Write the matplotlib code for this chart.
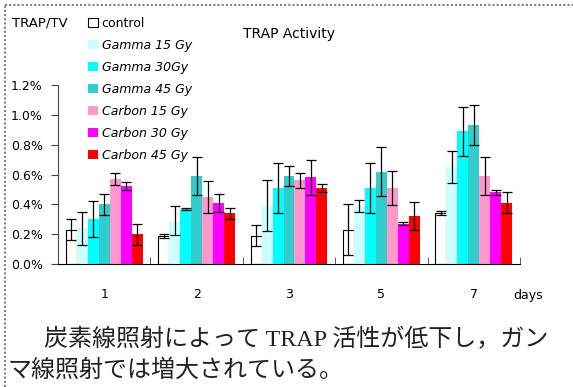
import numpy as np
import matplotlib.pyplot as plt
from matplotlib.lines import Line2D

days = ['1', '2', '3', '5', '7']
series = ['control', 'Gamma 15 Gy', 'Gamma 30Gy', 'Gamma 45 Gy',
          'Carbon 15 Gy', 'Carbon 30 Gy', 'Carbon 45 Gy']
colors = ['white', '#CCFFFF', '#00FFFF', '#33CCCC', '#FF99CC', '#FF00FF', '#FF0000']

# TRAP/TV in percent, one list per series (days 1, 2, 3, 5, 7)
control = [0.23, 0.19, 0.19, 0.23, 0.34]
gamma15 = [0.24, 0.29, 0.39, 0.39, 0.65]
gamma30 = [0.30, 0.37, 0.51, 0.51, 0.89]
gamma45 = [0.40, 0.59, 0.59, 0.62, 0.93]
carbon15 = [0.57, 0.45, 0.56, 0.51, 0.59]
carbon30 = [0.52, 0.41, 0.58, 0.27, 0.48]
carbon45 = [0.20, 0.34, 0.51, 0.32, 0.41]

control_err = [0.07, 0.013, 0.07, 0.17, 0.014]
gamma15_err = [0.11, 0.097, 0.17, 0.04, 0.106]
gamma30_err = [0.12, 0.005, 0.165, 0.165, 0.165]
gamma45_err = [0.07, 0.125, 0.07, 0.165, 0.135]
carbon15_err = [0.04, 0.107, 0.05, 0.115, 0.13]
carbon30_err = [0.027, 0.06, 0.115, 0.011, 0.015]
carbon45_err = [0.07, 0.035, 0.027, 0.094, 0.07]

yticks = [0.0, 0.2, 0.4, 0.6, 0.8, 1.0, 1.2]
ytick_labels = ['0.0%', '0.2%', '0.4%', '0.6%', '0.8%', '1.0%', '1.2%']

values = [control, gamma15, gamma30, gamma45, carbon15, carbon30, carbon45]
errors = [control_err, gamma15_err, gamma30_err, gamma45_err,
          carbon15_err, carbon30_err, carbon45_err]

fig = plt.figure(figsize=(5.73, 3.87), dpi=100)
ax = fig.add_axes([58 / 573, 1 - 264 / 387, 462 / 573, 179 / 387])

x = np.arange(len(days))
w = 0.119
for i in range(len(series)):
    pos = x + (i - 3) * w
    ax.bar(pos, values[i], width=w, color=colors[i],
           edgecolor='black' if i == 0 else 'none', linewidth=0.8,
           label=series[i])
    ax.errorbar(pos, values[i], yerr=errors[i], fmt='none', ecolor='black',
                elinewidth=0.9, capsize=3.5, capthick=0.9)

ax.set_xlim(-0.5, len(days) - 0.5)
ax.set_ylim(0, 1.2)
ax.spines['top'].set_visible(False)
ax.spines['right'].set_visible(False)
ax.spines['left'].set_color('#444444')
ax.set_yticks(yticks)
ax.set_yticklabels(ytick_labels, fontsize=9)
ax.tick_params(axis='y', length=5, color='#444444', pad=6)
ax.set_xticks(x)
ax.set_xticklabels(days, fontsize=9)
ax.tick_params(axis='x', length=0, pad=17)
# small upward ticks between groups
ax.set_xticks(np.arange(0.5, len(days), 1.0), minor=True)
ax.tick_params(axis='x', which='minor', direction='in', length=5, color='#444444')

fig.text(289 / 573, 1 - 34 / 387, 'TRAP Activity', ha='center', va='center', fontsize=10)
fig.text(12 / 573, 1 - 23 / 387, 'TRAP/TV', ha='left', va='center', fontsize=9.5)
fig.text(528 / 573, 1 - 295 / 387, 'days', ha='center', va='center', fontsize=9)

leg = ax.legend(loc='upper left', bbox_to_anchor=(88 / 573, 1 - 17 / 387),
                bbox_transform=fig.transFigure, frameon=False, fontsize=9,
                handlelength=0.8, handleheight=0.8, handletextpad=0.3,
                labelspacing=0.72, borderpad=0, borderaxespad=0)
for t in leg.get_texts()[1:]:
    t.set_style('italic')

# dotted frame
fig.add_artist(Line2D([5 / 573, 1], [1 - 5 / 387] * 2, transform=fig.transFigure,
                      color='gray', linestyle=(0, (1, 1)), linewidth=1.5))
fig.add_artist(Line2D([5 / 573] * 2, [0, 1 - 5 / 387], transform=fig.transFigure,
                      color='gray', linestyle=(0, (1, 1)), linewidth=1.5))

jp = ['Liberation Serif', 'Noto Sans CJK JP']
fig.text(20 / 573, 1 - 340 / 387, '\u3000炭素線照射によって TRAP 活性が低下し，ガン',
         ha='left', va='center', fontsize=17.3, family=jp, color='#222222')
fig.text(8 / 573, 1 - 370 / 387, 'マ線照射では増大されている。',
         ha='left', va='center', fontsize=17.3, family=jp, color='#222222')

fig.savefig('out.png', dpi=100)
